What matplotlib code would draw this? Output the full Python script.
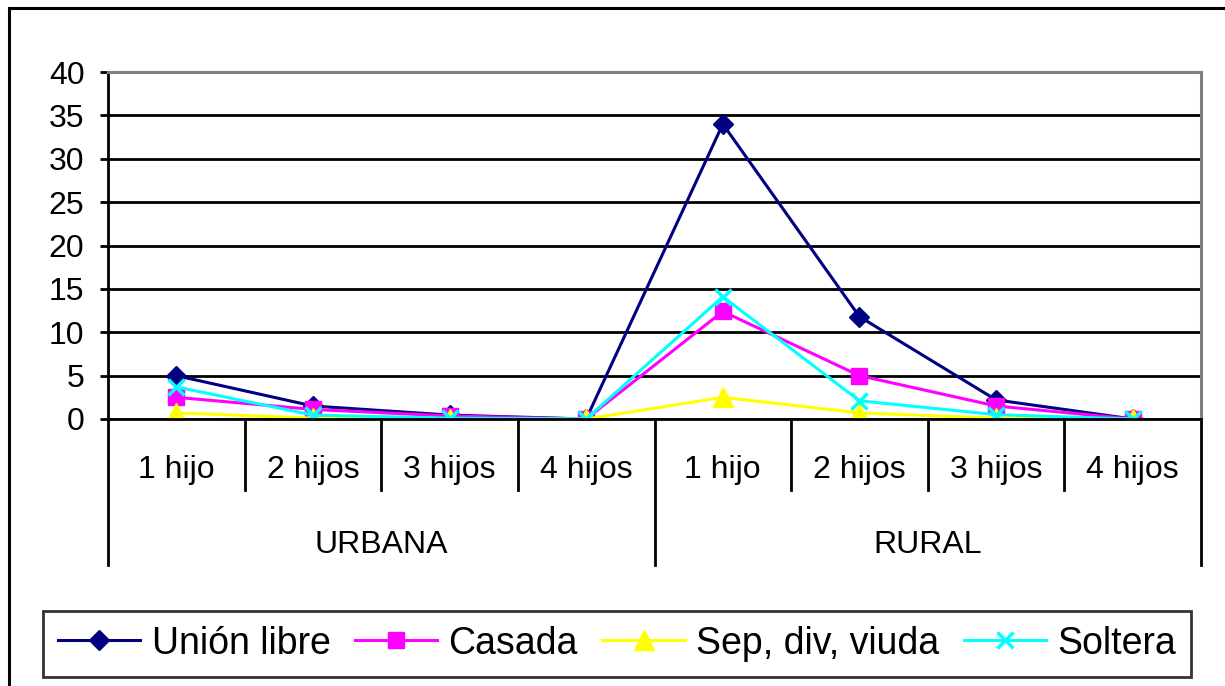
import matplotlib.pyplot as plt
from matplotlib.patches import Rectangle
from matplotlib.transforms import blended_transform_factory

plt.rcParams['font.family'] = ['Liberation Sans', 'DejaVu Sans']

# Categorias del eje x
hijos = ["1 hijo", "2 hijos", "3 hijos", "4 hijos", "1 hijo", "2 hijos", "3 hijos", "4 hijos"]
zonas = ["URBANA", "RURAL"]

# Valores de cada serie
union_libre = [5.0, 1.5, 0.45, 0.0, 34.0, 11.8, 2.2, 0.0]
casada = [2.5, 1.1, 0.35, 0.0, 12.4, 5.0, 1.5, 0.0]
sep_div_viuda = [0.7, 0.1, 0.05, 0.0, 2.5, 0.7, 0.1, 0.0]
soltera = [3.7, 0.45, 0.1, 0.0, 14.1, 2.1, 0.5, 0.0]

fig = plt.figure(figsize=(12.25, 6.86), dpi=100)
ax = fig.add_axes([108 / 1225, 1 - 419 / 686, (1201 - 108) / 1225, (419 - 72) / 686])

x = list(range(len(hijos)))

ax.plot(x, union_libre, color='#000080', lw=2.2, marker='D', ms=10, label='Unión libre')
ax.plot(x, casada, color='#FF00FF', lw=2.2, marker='s', ms=12, label='Casada')
ax.plot(x, sep_div_viuda, color='#FFFF00', lw=2.2, marker='^', ms=14, label='Sep, div, viuda')
ax.plot(x, soltera, color='#00FFFF', lw=2.2, marker='x', ms=11, mew=2.5, label='Soltera')

ax.set_xlim(-0.5, len(hijos) - 0.5)
ax.set_ylim(0, 40)
ax.set_yticks(range(0, 41, 5))
ax.yaxis.grid(True, color='black', lw=2)
ax.set_axisbelow(True)
ax.tick_params(axis='y', length=6, width=2, pad=11, labelsize=23, direction='out')
ax.set_xticks([])

ax.spines['top'].set_color('#808080')
ax.spines['right'].set_color('#808080')
ax.spines['top'].set_linewidth(2.2)
ax.spines['right'].set_linewidth(2.2)
ax.spines['left'].set_linewidth(2)
ax.spines['bottom'].set_linewidth(2)

# Eje de categorias con dos niveles
trans = blended_transform_factory(ax.transData, ax.transAxes)
for i, etiqueta in enumerate(hijos):
    ax.text(i, -0.147, etiqueta, transform=trans, ha='center', va='center', fontsize=23)
    if (i + 1) % 4 != 0:
        ax.plot([i + 0.5, i + 0.5], [0, -0.205], transform=trans, color='black', lw=2, clip_on=False)

for j, zona in enumerate(zonas):
    ax.text(j * 4 + 1.5, -0.363, zona, transform=trans, ha='center', va='center', fontsize=23)

for borde in [-0.5, 3.5, 7.5]:
    ax.plot([borde, borde], [0, -0.421], transform=trans, color='black', lw=2, clip_on=False)

leg = fig.legend(loc='center', bbox_to_anchor=(617 / 1225, 1 - 643.5 / 686), ncol=4,
                 fontsize=27, frameon=True, fancybox=False, edgecolor='black',
                 handlelength=2.2, handletextpad=0.3, columnspacing=0.65, borderpad=0.4)
leg.get_frame().set_linewidth(2)

# Marco exterior
fig.patches.append(Rectangle((9 / 1225, -0.02), 1.05, 1 - 8 / 686 + 0.02, transform=fig.transFigure,
                             fill=False, edgecolor='black', lw=2.2))

fig.savefig('out.png', dpi=100)
